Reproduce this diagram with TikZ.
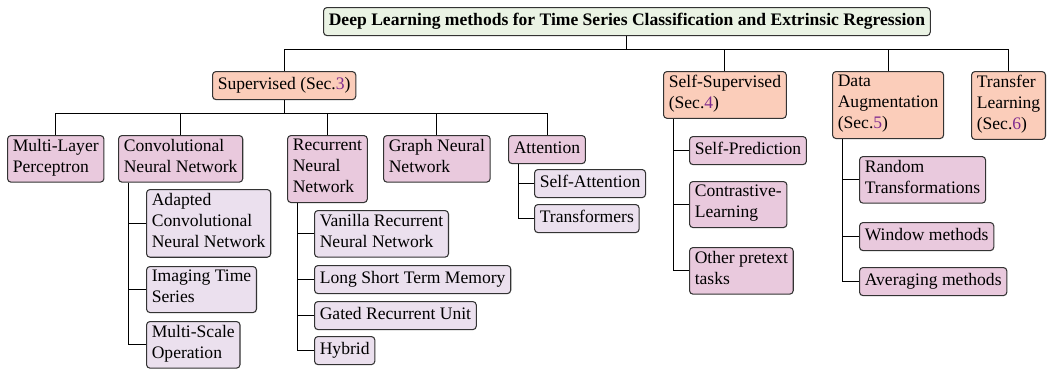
\documentclass[tikz,border=0pt]{standalone}
\usepackage{fontspec}
\setmainfont{Liberation Serif}

\definecolor{rootgreen}{HTML}{EAF3E4}
\definecolor{secpeach}{HTML}{FBCDBA}
\definecolor{catpink}{HTML}{E9C9DD}
\definecolor{subviolet}{HTML}{EBE0EE}
\definecolor{secpurple}{HTML}{7E2A8E}

\newcommand{\secno}[1]{\textcolor{secpurple}{#1}}

\begin{document}
\begin{tikzpicture}[x=0.02cm,y=-0.02cm,
		every node/.style={draw=black!80,line width=0.6pt,rounded corners=2pt,anchor=north west,
				align=left,inner xsep=3pt,inner ysep=2pt,
				execute at begin node=\strut,execute at end node=\strut},
		root/.style={fill=rootgreen,font=\bfseries},
		sec/.style={fill=secpeach},
		cat/.style={fill=catpink},
		sub/.style={fill=subviolet}]
		\useasboundingbox (0,0) rectangle (1047,372);

		\node[root] (dl) at (323,7) {Deep Learning methods for Time Series Classification and Extrinsic Regression};

		\node[sec] (sup) at (212,71) {Supervised (Sec.\secno{3})};
		\node[sec] (ssl) at (663,71) {Self-Supervised\\(Sec.\secno{4})};
		\node[sec] (da) at (832,71) {Data\\Augmentation\\(Sec.\secno{5})};
		\node[sec] (tl) at (971,71) {Transfer\\Learning\\(Sec.\secno{6})};

		\node[cat] (mlp) at (7,135) {Multi-Layer\\Perceptron};
		\node[cat] (cnn) at (118,135) {Convolutional\\Neural Network};
		\node[cat] (rnn) at (287,135) {Recurrent\\Neural\\Network};
		\node[cat] (gnn) at (383,135) {Graph Neural\\Network};
		\node[cat] (att) at (508,135) {Attention};

		\node[sub] (acnn) at (146,189) {Adapted\\Convolutional\\Neural Network};
		\node[sub] (its) at (146,266) {Imaging Time\\Series};
		\node[sub] (mso) at (146,321) {Multi-Scale\\Operation};

		\node[sub] (vrnn) at (314,210) {Vanilla Recurrent\\Neural Network};
		\node[sub] (lstm) at (314,265) {Long Short Term Memory};
		\node[sub] (gru) at (314,301) {Gated Recurrent Unit};
		\node[sub] (hyb) at (314,336) {Hybrid};

		\node[sub] (satt) at (534,169) {Self-Attention};
		\node[sub] (trf) at (534,204) {Transformers};

		\node[cat] (spred) at (689,136) {Self-Prediction};
		\node[cat] (cl) at (689,181) {Contrastive-\\Learning};
		\node[cat] (opt) at (689,247) {Other pretext\\tasks};

		\node[cat] (rt) at (859,156) {Random\\Transformations};
		\node[cat] (wm) at (859,222) {Window methods};
		\node[cat] (am) at (859,267) {Averaging methods};

		% forks
		\begin{scope}[line width=0.5pt]
			\foreach \c in {sup,ssl,da,tl}
				\draw (dl.south) -- ++(0,13) -| (\c.north);
			\foreach \c in {mlp,cnn,rnn,gnn,att}
				\draw (sup.south) -- ++(0,13) -| (\c.north);
			\foreach \c in {acnn,its,mso}
				\draw (cnn.south west) ++(10,0) |- (\c.west);
			\foreach \c in {vrnn,lstm,gru,hyb}
				\draw (rnn.south west) ++(10,0) |- (\c.west);
			\foreach \c in {satt,trf}
				\draw (att.south west) ++(10,0) |- (\c.west);
			\foreach \c in {spred,cl,opt}
				\draw (ssl.south west) ++(10,0) |- (\c.west);
			\foreach \c in {rt,wm,am}
				\draw (da.south west) ++(10,0) |- (\c.west);
		\end{scope}
	\end{tikzpicture}
\end{document}
